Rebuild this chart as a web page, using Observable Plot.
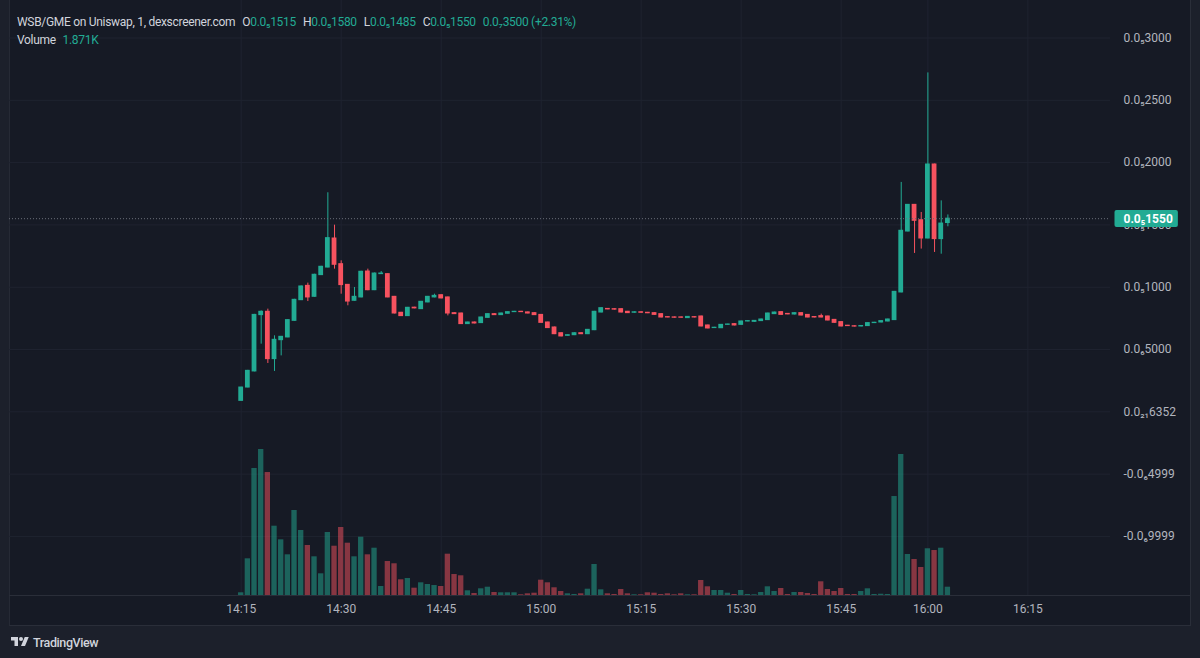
<!DOCTYPE html>
<html>
<head>
<meta charset="utf-8">
<script src="https://cdn.jsdelivr.net/npm/d3@7"></script>
<script src="https://cdn.jsdelivr.net/npm/@observablehq/plot@0.6"></script>
<style>
  html, body { margin: 0; padding: 0; width: 1200px; height: 658px; overflow: hidden; background: #1c202b; font-family: Roboto, "Noto Sans", sans-serif; }
  #panel { position: absolute; left: 9px; top: 0; width: 1182px; height: 626px; box-sizing: border-box; background: #161a25; border-left: 1px solid #262a35; border-right: 1px solid #2a2e39; border-bottom: 1px solid #2a2e39; }
  #sep { position: absolute; left: 9px; top: 595px; width: 1182px; height: 1px; background: #2a2e39; }
  .layer { position: absolute; left: 0; top: 0; }
  #legend { position: absolute; left: 17px; top: 13px; color: #d1d4dc; font-size: 12px; line-height: 18px; white-space: nowrap; letter-spacing: -0.3px; }
  #legend .v { color: #22ab94; }
  #legend .g { margin-left: 7px; }
  #footer { position: absolute; left: 0; top: 626px; width: 1200px; height: 32px; display: flex; align-items: center; color: #d1d4dc; }
  #footer svg { margin-left: 10px; }
  #footer span { margin-left: 3px; font-size: 12.5px; font-weight: 500; letter-spacing: -0.4px; }
</style>
</head>
<body>
<div id="panel"></div>
<div id="sep"></div>
<div id="stack"></div>
<div id="legend"></div>
<div id="footer">
  <svg width="20" height="14" viewBox="0 0 36 28"><path d="M14 22H7V11H0V4h14v18zM28 22h-8l7.5-18h8L28 22z" fill="#d1d4dc"/><circle cx="20" cy="8" r="4" fill="#d1d4dc"/></svg>
  <span>TradingView</span>
</div>
<script>
// WSB/GME 1-minute candles (prices in millionths, i.e. ×1e-6)
const startTime = "14:15";
const skippedMinutes = ["15:49", "15:51"]; // minutes without trades

const open = [0.088,0.195,0.324,0.776,0.803,0.423,0.575,0.597,0.730,0.896,
  1.011,0.923,1.097,1.158,1.391,1.185,1.019,0.891,0.918,1.126,
  0.976,1.105,1.105,0.923,0.795,0.768,0.836,0.824,0.878,0.918,
  0.936,0.918,0.792,0.789,0.704,0.717,0.712,0.754,0.784,0.776,
  0.787,0.800,0.803,0.798,0.792,0.778,0.717,0.677,0.631,0.610,
  0.615,0.631,0.623,0.655,0.797,0.826,0.824,0.824,0.803,0.795,
  0.799,0.795,0.792,0.784,0.760,0.758,0.758,0.752,0.760,0.765,
  0.693,0.672,0.671,0.698,0.704,0.698,0.725,0.722,0.728,0.736,
  0.784,0.800,0.786,0.781,0.792,0.778,0.761,0.768,0.765,0.738,
  0.720,0.691,0.687,0.685,0.688,0.712,0.717,0.725,0.736,0.958,
  1.447,1.661,1.538,1.391,1.985,1.386,1.515];

const high = [0.197,0.333,0.782,0.810,0.824,0.610,0.605,0.740,0.903,1.010,
  1.033,1.104,1.168,1.758,1.498,1.212,1.022,0.998,1.128,1.145,
  1.114,1.126,1.108,0.926,0.798,0.838,0.839,0.886,0.926,0.944,
  0.939,0.921,0.795,0.792,0.720,0.720,0.760,0.787,0.787,0.792,
  0.803,0.806,0.806,0.801,0.795,0.781,0.720,0.680,0.634,0.618,
  0.634,0.634,0.661,0.806,0.835,0.829,0.827,0.827,0.806,0.802,
  0.802,0.798,0.795,0.787,0.763,0.761,0.761,0.765,0.763,0.768,
  0.696,0.678,0.701,0.704,0.707,0.728,0.731,0.733,0.744,0.792,
  0.800,0.803,0.789,0.795,0.795,0.781,0.764,0.784,0.768,0.741,
  0.723,0.694,0.690,0.692,0.715,0.718,0.731,0.744,0.966,1.841,
  1.664,1.664,1.600,2.720,1.988,1.693,1.580];

const low = [0.085,0.192,0.321,0.543,0.388,0.324,0.449,0.594,0.727,0.893,
  0.885,0.920,1.094,1.155,1.145,0.944,0.851,0.888,0.915,0.972,
  0.973,1.102,0.915,0.786,0.765,0.765,0.827,0.821,0.875,0.915,
  0.907,0.770,0.781,0.701,0.701,0.706,0.709,0.751,0.773,0.773,
  0.784,0.797,0.797,0.786,0.773,0.711,0.669,0.620,0.602,0.607,
  0.612,0.620,0.620,0.652,0.794,0.819,0.817,0.794,0.789,0.792,
  0.792,0.788,0.775,0.754,0.754,0.752,0.752,0.749,0.754,0.682,
  0.666,0.669,0.668,0.695,0.690,0.695,0.722,0.719,0.725,0.733,
  0.781,0.775,0.779,0.778,0.770,0.754,0.754,0.754,0.730,0.711,
  0.682,0.685,0.681,0.682,0.685,0.709,0.714,0.722,0.733,0.955,
  1.444,1.271,1.306,1.388,1.279,1.265,1.485];

const close = [0.195,0.329,0.778,0.803,0.423,0.578,0.602,0.736,0.899,1.006,
  0.918,1.100,1.164,1.394,1.180,1.017,0.885,0.923,1.124,0.976,
  1.110,1.110,0.918,0.789,0.768,0.835,0.830,0.883,0.923,0.931,
  0.910,0.789,0.784,0.704,0.717,0.709,0.757,0.784,0.776,0.789,
  0.800,0.803,0.800,0.789,0.776,0.714,0.672,0.623,0.605,0.615,
  0.631,0.623,0.658,0.803,0.832,0.822,0.820,0.797,0.792,0.799,
  0.795,0.791,0.778,0.757,0.757,0.755,0.755,0.762,0.757,0.685,
  0.669,0.675,0.698,0.701,0.693,0.725,0.728,0.730,0.741,0.789,
  0.797,0.778,0.782,0.792,0.773,0.757,0.757,0.757,0.733,0.714,
  0.685,0.688,0.684,0.689,0.712,0.715,0.728,0.741,0.963,1.453,
  1.661,1.533,1.391,1.985,1.386,1.511,1.550];

const volume = [610,8270,28630,32910,27720,15620,12550,9170,19160,14650,
  11270,8720,4890,14200,11110,15330,11790,8720,13140,9170,
  10660,2030,7660,7150,3540,3830,1650,2860,2480,2250,
  2030,9310,4730,4440,1060,450,1510,1870,680,610,
  610,610,160,380,520,3450,2860,1740,900,380,
  230,380,1420,6990,1280,380,230,1350,380,160,
  160,610,520,230,380,160,380,160,160,3380,
  1960,1130,1130,520,230,1130,230,160,680,1960,
  900,1580,230,680,680,450,230,3090,1350,900,
  1580,230,230,900,1510,230,290,230,22310,31780,
  9240,8110,6310,10530,10140,10660,1871];

const timeTickLabels = ["14:15","14:30","14:45","15:00","15:15","15:30","15:45","16:00","16:15"];
const priceTicks = [3e-6, 2.5e-6, 2e-6, 1.5e-6, 1e-6, 5e-7, 6.352e-22, -4.999e-7, -9.999e-7];

const UNIT = 1e-6;
const UP = "#22ab94", DOWN = "#f7525f", GRID = "#1f2330", AXIS_TEXT = "#b2b5be";

// minute helpers
const toMin = s => { const [h, m] = s.split(":").map(Number); return h * 60 + m; };
const toStr = m => String(Math.floor(m / 60)).padStart(2, "0") + ":" + String(m % 60).padStart(2, "0");

// bar times: consecutive minutes, leaving out the idle ones
const times = [];
for (let m = toMin(startTime); times.length < open.length; m++) {
  const t = toStr(m);
  if (!skippedMinutes.includes(t)) times.push(t);
}

const bars = open.map((o, i) => ({
  i, time: times[i],
  open: o * UNIT, high: high[i] * UNIT, low: low[i] * UNIT, close: close[i] * UNIT,
  volume: volume[i], up: close[i] >= o
}));
const last = bars[bars.length - 1];

// time ticks sit on their bar; future times continue at one bar per minute
const lastMin = toMin(last.time);
const tickPos = timeTickLabels.map(t => {
  const k = times.indexOf(t);
  return k >= 0 ? k : last.i + (toMin(t) - lastMin);
});
const labelAt = new Map(tickPos.map((p, k) => [p, timeTickLabels[k]]));

// price labels in the compact subscript-zero notation, e.g. 0.0₅3000
const SUB = "₀₁₂₃₄₅₆₇₈₉";
function fmtPrice(v) {
  const sign = v < 0 ? "-" : "";
  const a = Math.abs(v);
  let e = Math.floor(Math.log10(a));
  let digits = Math.round(a / Math.pow(10, e - 3));
  if (digits >= 10000) { digits = Math.round(digits / 10); e += 1; }
  const zeros = -e - 1;
  const sub = String(zeros).split("").map(c => SUB[+c]).join("");
  return sign + "0.0" + sub + digits;
}

// shared frame
const W = 1200, H = 626;
const frame = {
  width: W, height: H, marginLeft: 9, marginRight: 90, marginTop: 0, marginBottom: 31,
  style: { background: "transparent", color: AXIS_TEXT, fontFamily: "Roboto, 'Noto Sans', sans-serif", fontSize: "12px", overflow: "visible" }
};
const xScale = { type: "linear", domain: [-34.75, 130.39] };
const yPrice = { type: "linear", domain: [-1.474e-6, 3.301e-6] };
const color = { type: "identity" };

// layer 1: grid and axes
const axesPlot = Plot.plot({
  ...frame, x: xScale, y: yPrice, color,
  marks: [
    Plot.ruleY(priceTicks, { stroke: GRID }),
    Plot.ruleX(tickPos, { stroke: GRID }),
    Plot.axisY(priceTicks, { anchor: "right", tickFormat: fmtPrice, tickSize: 0, tickPadding: 13, fill: AXIS_TEXT, label: null }),
    Plot.axisX(tickPos, { anchor: "bottom", tickFormat: d => labelAt.get(d), tickSize: 0, tickPadding: 9, fill: AXIS_TEXT, label: null })
  ]
});

// layer 2: volume histogram on its own scale
const maxVol = d3.max(volume);
const volumePlot = Plot.plot({
  ...frame, x: { ...xScale, axis: null }, color,
  y: { type: "linear", domain: [0, maxVol * 4.075], axis: null },
  marks: [
    Plot.rectY(bars, { x1: d => d.i - 0.4, x2: d => d.i + 0.4, y: "volume", fill: d => d.up ? UP : DOWN, fillOpacity: 0.5 })
  ]
});

// layer 3: candles, last-price line and badge
const candlePlot = Plot.plot({
  ...frame, x: { ...xScale, axis: null }, y: { ...yPrice, axis: null }, color,
  marks: [
    Plot.ruleX(bars, { x: "i", y1: "low", y2: "high", stroke: d => d.up ? UP : DOWN, strokeWidth: 1 }),
    Plot.rect(bars, { x1: d => d.i - 0.36, x2: d => d.i + 0.36, y1: "open", y2: "close", fill: d => d.up ? UP : DOWN, insetTop: -0.5, insetBottom: -0.5 }),
    Plot.ruleY([last.close], { stroke: "#6a6d78", strokeDasharray: "1,2" }),
    Plot.text([last], { y: "close", frameAnchor: "right", dx: 13, textAnchor: "start", text: d => fmtPrice(d.close), fill: "#ffffff", fontWeight: "bold", fontSize: 12, className: "badge" })
  ]
});

const stack = document.getElementById("stack");
for (const p of [axesPlot, volumePlot, candlePlot]) { p.classList.add("layer"); stack.appendChild(p); }

// badge background behind the last price, in the text's own coordinates
const badgeText = candlePlot.querySelector("g.badge text") || candlePlot.querySelector(".badge text");
if (badgeText) {
  const bb = badgeText.getBBox();
  const rect = document.createElementNS("http://www.w3.org/2000/svg", "rect");
  rect.setAttribute("x", bb.x - 9); rect.setAttribute("y", bb.y - 1.5);
  rect.setAttribute("width", bb.width + 14); rect.setAttribute("height", bb.height + 3);
  rect.setAttribute("rx", 2); rect.setAttribute("fill", UP);
  const tf = badgeText.getAttribute("transform");
  if (tf) rect.setAttribute("transform", tf);
  badgeText.parentNode.insertBefore(rect, badgeText);
}

// legend line with OHLC of the last bar
const chg = last.close - last.open;
const pct = chg / last.open * 100;
document.getElementById("legend").innerHTML =
  `<div>WSB/GME on Uniswap, 1, dexscreener.com` +
  `<span class="g">O<span class="v">${fmtPrice(last.open)}</span></span>` +
  `<span class="g">H<span class="v">${fmtPrice(last.high)}</span></span>` +
  `<span class="g">L<span class="v">${fmtPrice(last.low)}</span></span>` +
  `<span class="g">C<span class="v">${fmtPrice(last.close)}</span></span>` +
  `<span class="g v">${(chg < 0 ? "-" : "") + fmtPrice(Math.abs(chg))} (${chg >= 0 ? "+" : ""}${pct.toFixed(2)}%)</span></div>` +
  `<div>Volume <span class="v" style="margin-left:4px">${(last.volume / 1000).toFixed(3)}K</span></div>`;
</script>
</body>
</html>
